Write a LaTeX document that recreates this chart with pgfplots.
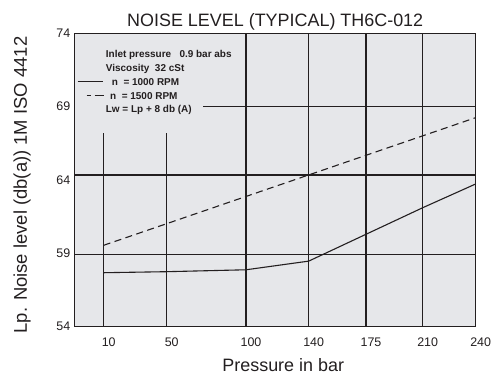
\documentclass[border=0pt]{standalone}
\usepackage{pgfplots}
\pgfplotsset{compat=1.18}
\usepackage{fontspec}
\setmainfont{Liberation Sans}
\definecolor{bg}{RGB}{230,231,234}
\definecolor{ln}{RGB}{35,31,32}
\begin{document}
\begin{tikzpicture}
\begin{axis}[
  at={(0,0)}, anchor=south west,
  scale only axis, width=401bp, height=293.4bp,
  xmin=0, xmax=401, ymin=54, ymax=74,
  axis background/.style={fill=bg},
  axis line style={ln, line width=1.3bp},
  xtick={29,92,171.3,234,291.3,348,401},
  xticklabels={10,50,100,140,175,210,240},
  ytick={54,59,64,69,74},
  major tick length=0pt,
  tick style={draw=none},
  /pgf/number format/assume math mode=true,
  tick label style={font=\fontsize{12.5}{14}\selectfont, text=ln},
  x tick label style={anchor=base, yshift=-19.5bp, xshift=5bp},
  y tick label style={xshift=-1bp},
  clip=false,
]
% grid lines (as drawn in the original)
\addplot[ln, line width=1.1bp] coordinates {(29,54) (29,67.18)};
\addplot[ln, line width=1.1bp] coordinates {(92,54) (92,67.18)};
\addplot[ln, line width=1.1bp] coordinates {(171.3,54) (171.3,74)};
\addplot[ln, line width=1.1bp] coordinates {(234,54) (234,74)};
\addplot[ln, line width=1.1bp] coordinates {(291.3,54) (291.3,74)};
\addplot[ln, line width=1.1bp] coordinates {(348,54) (348,74)};
\addplot[ln, line width=1.1bp] coordinates {(0,58.95) (401,58.95)};
\addplot[ln, line width=1.1bp] coordinates {(0,64.34) (401,64.34)};
\addplot[ln, line width=1.1bp] coordinates {(128.3,69.04) (401,69.04)};
% n = 1000 RPM
\addplot[ln, line width=1.1bp] coordinates {(29,57.68) (92,57.75) (171.3,57.88) (234,58.47) (291.3,60.30) (348,62.11) (401,63.73)};
% n = 1500 RPM
\addplot[ln, line width=1.1bp, dash pattern=on 7bp off 4.5bp] coordinates {(29,59.55) (401,68.25)};
% legend text
\begin{scope}[font=\fontsize{10}{11}\bfseries, text=ln]
\node[anchor=base west, inner sep=0] at ([xshift=31bp,yshift=-24.5bp]rel axis cs:0,1) {Inlet pressure\ \ \ 0.9 bar abs};
\node[anchor=base west, inner sep=0] at ([xshift=31bp,yshift=-38bp]rel axis cs:0,1) {Viscosity\ \ 32 cSt};
\node[anchor=base west, inner sep=0] at ([xshift=37bp,yshift=-52bp]rel axis cs:0,1) {n\ \ = 1000 RPM};
\node[anchor=base west, inner sep=0] at ([xshift=35.3bp,yshift=-66bp]rel axis cs:0,1) {n\ \ = 1500 RPM};
\node[anchor=base west, inner sep=0] at ([xshift=31bp,yshift=-79.6bp]rel axis cs:0,1) {Lw = Lp + 8 db (A)};
\end{scope}
\draw[ln, line width=1.1bp] ([xshift=3bp,yshift=-48.4bp]rel axis cs:0,1) -- ([xshift=28.6bp,yshift=-48.4bp]rel axis cs:0,1);
\draw[ln, line width=1.1bp, dash pattern=on 4bp off 4bp on 12bp] ([xshift=12bp,yshift=-62.4bp]rel axis cs:0,1) -- ([xshift=29.3bp,yshift=-62.4bp]rel axis cs:0,1);
% title and axis labels
\node[anchor=base, inner sep=0, font=\fontsize{18}{20}\selectfont, text=ln] at ([yshift=6.8bp]rel axis cs:0.5,1) {NOISE LEVEL (TYPICAL) TH6C-012};
\node[anchor=base, inner sep=0, font=\fontsize{18}{20}\selectfont, text=ln] at ([yshift=-44.3bp]rel axis cs:0.52,0) {Pressure in bar};
\node[anchor=base, inner sep=0, rotate=90, font=\fontsize{18.5}{20}\selectfont, text=ln] at ([xshift=-47.7bp]rel axis cs:0,0.483) {Lp. Noise level (db(a)) 1M ISO 4412};
\end{axis}
\pgfresetboundingbox
\path[use as bounding box] (-74.7bp,-49.3bp) rectangle (420.3bp,326.7bp);
\end{tikzpicture}
\end{document}
